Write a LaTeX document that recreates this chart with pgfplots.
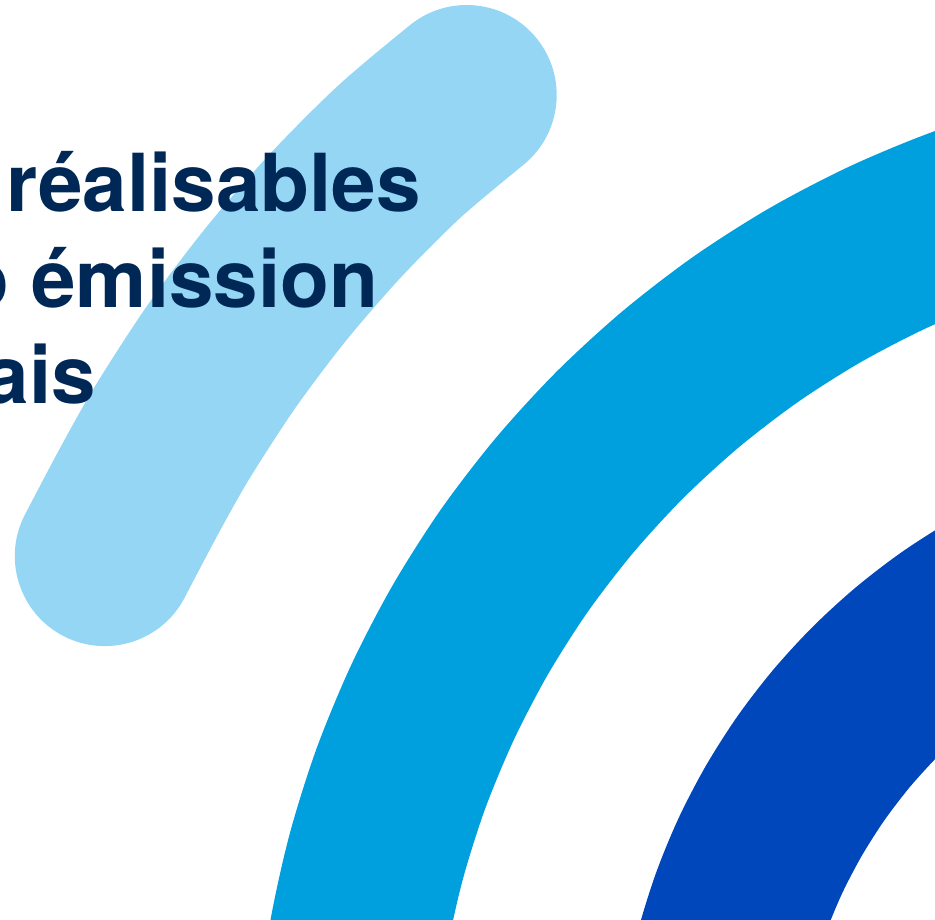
\documentclass[border=0pt]{standalone}
\usepackage{fontspec}
\setmainfont{TeX Gyre Heros}
\usepackage{pgfplots}
\pgfplotsset{compat=1.18}
\definecolor{lightarc}{RGB}{149,214,245}
\definecolor{midarc}{RGB}{0,160,223}
\definecolor{darkarc}{RGB}{0,71,187}
\definecolor{navy}{RGB}{0,40,86}
\begin{document}
\begin{tikzpicture}
\useasboundingbox (0,0) rectangle (935pt,920pt);
\clip (0,0) rectangle (935pt,920pt);
\begin{axis}[
  at={(0,0)}, anchor=south west,
  width=935pt, height=920pt, scale only axis,
  hide axis,
  xmin=0, xmax=935, ymin=0, ymax=920,
  y dir=reverse,
  clip=true,
]
% light blue arc (rounded ends)
\addplot[no markers, smooth, color=lightarc, line width=180pt, line cap=round]
coordinates {
(466.7,95.0) (400.1,150.9) (335.9,215.1) (276.5,283.5) (221.9,355.9)
(172.5,432.0) (139.1,491.1) (104.8,556.1)
};
% medium blue arc
\addplot[no markers, smooth, color=midarc, line width=179pt]
coordinates {
(1122.5,173.3) (1042.2,191.1) (963.8,215.8) (887.9,247.3) (815.0,285.2)
(745.7,329.3) (680.5,379.4) (619.9,434.9) (564.4,495.5) (514.3,560.7)
(470.2,630.0) (432.3,702.9) (400.8,778.8) (376.1,857.2) (358.3,937.5)
(347.6,1018.9)
};
% dark blue arc
\addplot[no markers, smooth, color=darkarc, line width=180pt]
coordinates {
(1087.6,556.0) (1040.9,575.3) (996.0,598.7) (953.3,625.9) (913.2,656.7)
(875.9,690.9) (841.7,728.2) (810.9,768.3) (783.7,811.0) (760.3,855.9)
(741.0,902.6) (725.8,950.9) (714.8,1000.3)
};
\node[anchor=base east, inner sep=0pt, text=navy, font=\fontsize{80}{96}\selectfont\bfseries] at (axis cs:4.5,212) {u};
\node[anchor=base east, inner sep=0pt, text=navy, font=\fontsize{80}{96}\selectfont\bfseries] at (axis cs:421,212) {réalisables};
\node[anchor=base east, inner sep=0pt, text=navy, font=\fontsize{80}{96}\selectfont\bfseries] at (axis cs:378.5,307.5) {zéro émission};
\node[anchor=base east, inner sep=0pt, text=navy, font=\fontsize{80}{96}\selectfont\bfseries] at (axis cs:96,403) {français};
\end{axis}
\end{tikzpicture}
\end{document}
